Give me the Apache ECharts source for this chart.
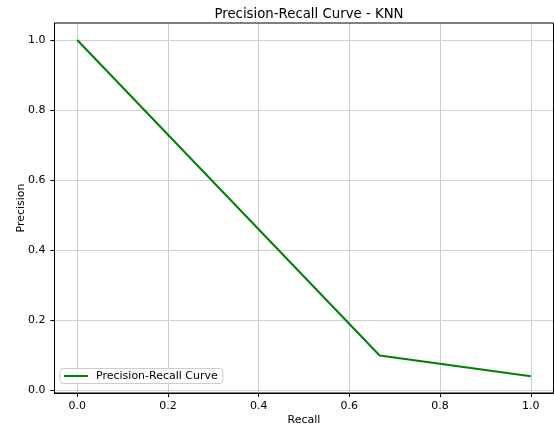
<!DOCTYPE html>
<html>
<head>
<meta charset="utf-8">
<script src="https://cdn.jsdelivr.net/npm/echarts@6/dist/echarts.min.js"></script>
<style>html,body{margin:0;padding:0;background:#fff}#c{width:554px;height:433px}</style>
</head>
<body>
<div id="c"></div>
<script>
const recall = [0.0, 0.6667, 1.0];
const precision = [1.0, 0.099, 0.040];
const xTicks = [0.0, 0.2, 0.4, 0.6, 0.8, 1.0];
const yTicks = [0.0, 0.2, 0.4, 0.6, 0.8, 1.0];
const seriesName = 'Precision-Recall Curve';
const titleText = 'Precision-Recall Curve - KNN';

const chart = echarts.init(document.getElementById('c'), null, {renderer: 'canvas'});
const font = 'DejaVu Sans';
chart.setOption({
  animation: false,
  backgroundColor: '#fff',
  title: {
    text: titleText, left: 304, top: 3, textAlign: 'center',
    textStyle: {fontFamily: font, fontSize: 13.3, fontWeight: 'normal', color: '#000'}
  },
  grid: {left: 54.5, right: 0.5, top: 23, height: 370, containLabel: false},
  legend: {
    left: 60, top: 368.5, data: [seriesName],
    icon: 'rect', itemWidth: 24, itemHeight: 2, itemGap: 8,
    padding: [2, 5, 2, 4], borderColor: '#cccccc', borderWidth: 1, borderRadius: 3,
    backgroundColor: 'rgba(255,255,255,0.8)',
    textStyle: {fontFamily: font, fontSize: 11, color: '#000', padding: [0, 0, 0, 3]}
  },
  xAxis: {
    type: 'value', min: -0.05, max: 1.05,
    name: 'Recall', nameLocation: 'middle', nameGap: 22, nameMoveOverlap: false,
    nameTextStyle: {fontFamily: font, fontSize: 11, color: '#000'},
    axisLine: {show: true, onZero: false, lineStyle: {color: '#000', width: 1}},
    axisTick: {show: true, inside: false, length: 4, customValues: xTicks, lineStyle: {color: '#000'}},
    axisLabel: {customValues: xTicks, margin: 8, fontFamily: font, fontSize: 11, color: '#000', formatter: v => v.toFixed(1)},
    splitLine: {show: true, lineStyle: {color: '#cfcfcf', width: 1}}
  },
  yAxis: {
    type: 'value', min: -0.008, max: 1.0485,
    name: 'Precision', nameLocation: 'middle', nameGap: 28, nameMoveOverlap: false,
    nameTextStyle: {fontFamily: font, fontSize: 11, color: '#000'},
    axisLine: {show: true, onZero: false, lineStyle: {color: '#000', width: 1}},
    axisTick: {show: true, inside: false, length: 4, customValues: yTicks, lineStyle: {color: '#000'}},
    axisLabel: {customValues: yTicks, margin: 9, fontFamily: font, fontSize: 11, color: '#000', formatter: v => v.toFixed(1)},
    splitLine: {show: true, lineStyle: {color: '#cfcfcf', width: 1}}
  },
  series: [{
    name: seriesName, type: 'line',
    data: recall.map((r, i) => [r, precision[i]]),
    showSymbol: false, symbol: 'none',
    lineStyle: {color: '#008000', width: 2},
    itemStyle: {color: '#008000'}
  }]
});
// draw right/top spines
const g = chart.getModel().getComponent('grid').coordinateSystem.getRect();
chart.setOption({graphic: [{type: 'rect', shape: {x: g.x, y: g.y, width: g.width, height: g.height}, style: {fill: 'none', stroke: '#000', lineWidth: 1}, silent: true, z: 100}]});
</script>
</body>
</html>
